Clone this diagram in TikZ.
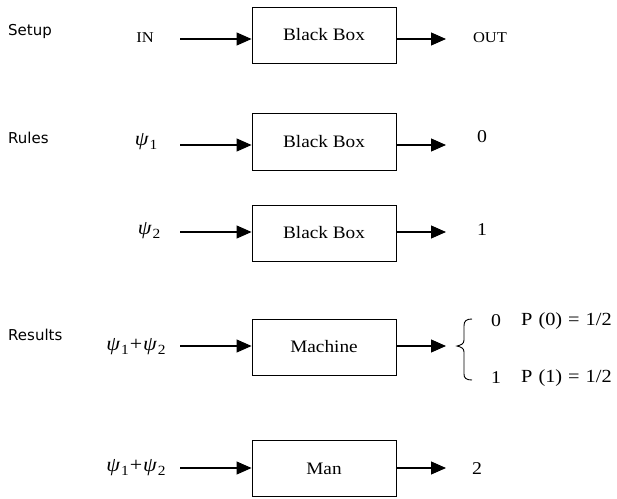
\documentclass[tikz,border=0pt]{standalone}
\usepackage{fontspec}
\setmainfont{Liberation Serif}[FakeStretch=1.1]
\newfontfamily\labelfont{DejaVu Sans}
\usetikzlibrary{arrows.meta}
\newcommand\mypsi[1]{\textit{ψ}\kern0.8pt\raisebox{-3.5pt}{\fontsize{14}{16}\selectfont\upshape #1}}
\begin{document}
\begin{tikzpicture}[x=1pt,y=-1pt,
  box/.style={draw, line width=0.9pt, minimum width=144pt, inner sep=0pt,
    font=\fontsize{17.5}{20}\selectfont},
  arr/.style={line width=1.1pt, -{Triangle[length=15pt,width=13pt]}},
  sect/.style={font=\labelfont\fontsize{15}{17}\selectfont, anchor=base west, inner sep=0pt},
  io/.style={font=\fontsize{15}{17}\selectfont, inner sep=0pt},
  psi/.style={font=\fontsize{20}{22}\selectfont, inner sep=0pt},
  dig/.style={font=\fontsize{18}{20}\selectfont, inner sep=0pt},
  prob/.style={font=\fontsize{18.5}{20}\selectfont, inner sep=0pt, anchor=west}]
\useasboundingbox (0,0) rectangle (617,498);

% section labels
\node[sect] (lsetup) at (8,35) {Setup};
\node[sect] (lrules) at (8,143) {Rules};
\node[sect] (lresults) at (8,340) {Results};

% boxes
\node[box, minimum height=56pt] (bA) at (324,35) {Black Box};
\node[box, minimum height=57pt] (bB) at (324,141.5) {Black Box};
\node[box, minimum height=56pt] (bC) at (324,233) {Black Box};
\node[box, minimum height=56pt] (bD) at (324,347) {Machine};
\node[box, minimum height=56pt] (bE) at (324,468.5) {Man};

% inputs
\node[io] (inA) at (145,38) {IN};
\node[psi] (inB) at (146,142) {\mypsi{1}};
\node[psi] (inC) at (149,231) {\mypsi{2}};
\node[psi] (inD) at (136,347) {\mypsi{1}\kern1pt+\kern1pt\mypsi{2}};
\node[psi] (inE) at (136,468) {\mypsi{1}\kern1pt+\kern1pt\mypsi{2}};

% outputs
\node[io] (outA) at (490,38) {OUT};
\node[dig] (outB) at (482,137) {0};
\node[dig] (outC) at (482,230) {1};
\node[dig] (outE) at (477,469) {2};

% arrow coordinates
\coordinate (sA) at (180,39);  \coordinate (eA) at (446,39);
\coordinate (sB) at (180,145); \coordinate (eB) at (446,145);
\coordinate (sC) at (180,232); \coordinate (eC) at (446,232);
\coordinate (sD) at (180,346); \coordinate (eD) at (446,346);
\coordinate (sE) at (180,468); \coordinate (eE) at (446,468);

\foreach \r in {A,B,C,D,E}{
  \draw[arr] (s\r) -- (s\r -| b\r.west);
  \draw[arr] (b\r.east |- e\r) -- (e\r);
}

% brace
\draw[line width=0.9pt] (472,319) .. controls (466,319) and (464,321) .. (464,326)
  -- (464,340) .. controls (464,344) and (461,345) .. (457,346)
  .. controls (461,347) and (464,348) .. (464,352)
  -- (464,374) .. controls (464,378) and (466,380) .. (472,380);

\node[dig] (r0) at (496,321) {0};
\node[prob] (p0) at (521,321) {P\hspace{6pt}(0)\hspace{6pt}=\hspace{6pt}1/2};
\node[dig] (r1) at (496,378) {1};
\node[prob] (p1) at (521,378) {P\hspace{6pt}(1)\hspace{6pt}=\hspace{6pt}1/2};
\end{tikzpicture}
\end{document}
